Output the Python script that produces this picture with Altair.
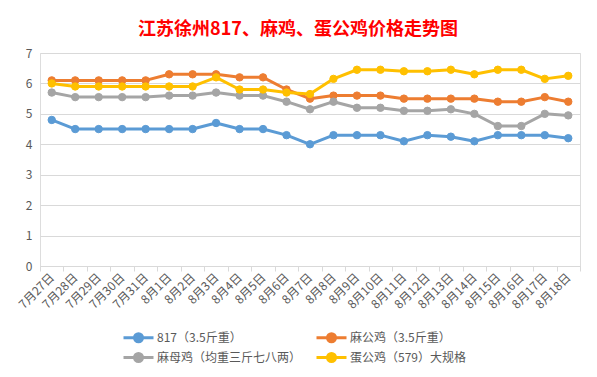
import altair as alt
import pandas as pd

dates = ["7月27日", "7月28日", "7月29日", "7月30日", "7月31日",
         "8月1日", "8月2日", "8月3日", "8月4日", "8月5日", "8月6日",
         "8月7日", "8月8日", "8月9日", "8月10日", "8月11日", "8月12日",
         "8月13日", "8月14日", "8月15日", "8月16日", "8月17日", "8月18日"]

series_names = ["817（3.5斤重）", "麻公鸡（3.5斤重）", "麻母鸡（均重三斤七八两）", "蛋公鸡（579）大规格"]
series_colors = ["#5B9BD5", "#ED7D31", "#A5A5A5", "#FFC000"]

s817 = [4.8, 4.5, 4.5, 4.5, 4.5, 4.5, 4.5, 4.7, 4.5, 4.5, 4.3, 4.0,
        4.3, 4.3, 4.3, 4.1, 4.3, 4.25, 4.1, 4.3, 4.3, 4.3, 4.2]
ma_gong = [6.1, 6.1, 6.1, 6.1, 6.1, 6.3, 6.3, 6.3, 6.2, 6.2, 5.8, 5.5,
           5.6, 5.6, 5.6, 5.5, 5.5, 5.5, 5.5, 5.4, 5.4, 5.55, 5.4]
ma_mu = [5.7, 5.55, 5.55, 5.55, 5.55, 5.6, 5.6, 5.7, 5.6, 5.6, 5.4, 5.15,
         5.4, 5.2, 5.2, 5.1, 5.1, 5.15, 5.0, 4.6, 4.6, 5.0, 4.95]
dan_gong = [6.0, 5.9, 5.9, 5.9, 5.9, 5.9, 5.9, 6.2, 5.8, 5.8, 5.7, 5.65,
            6.15, 6.45, 6.45, 6.4, 6.4, 6.45, 6.3, 6.45, 6.45, 6.15, 6.25]

rows = []
for name, vals in zip(series_names, [s817, ma_gong, ma_mu, dan_gong]):
    for d, v in zip(dates, vals):
        rows.append({"date": d, "series": name, "price": v})
df = pd.DataFrame(rows)

FONT = "Noto Sans CJK SC"
GREY = "#595959"

cscale = alt.Scale(domain=series_names, range=series_colors)
legend = alt.Legend(
    title=None, orient="none", legendX=92, legendY=278, columns=2,
    direction="horizontal",
    symbolType="M-3,0H3M-0.8,0A0.8,0.8,0,1,1,0.8,0A0.8,0.8,0,1,1,-0.8,0Z",
    symbolSize=100, symbolStrokeWidth=3, labelOffset=12,
    labelFontSize=12, labelFont=FONT, labelColor=GREY,
    rowPadding=-1, columnPadding=8, padding=0,
)

x = alt.X("date:N", sort=dates, bandPosition=0.5,
          scale=alt.Scale(type="band", paddingInner=0, paddingOuter=0),
          axis=alt.Axis(title=None, labelAngle=-45, labelAlign="right",
                        labelBaseline="middle", labelPadding=4,
                        labelFontSize=12, labelFont=FONT, labelColor=GREY,
                        tickBand="extent", ticks=True, tickSize=5,
                        tickColor="#D9D9D9", domainColor="#D9D9D9",
                        grid=False, labelOverlap=False))
y = alt.Y("price:Q", scale=alt.Scale(domain=[0, 7], nice=False),
          axis=alt.Axis(title=None, values=[0, 1, 2, 3, 4, 5, 6, 7],
                        domain=False, ticks=False, labelPadding=8,
                        labelFontSize=12, labelFont=FONT, labelColor=GREY,
                        gridColor="#D9D9D9", gridWidth=1))

lines = alt.Chart(df).mark_line(strokeWidth=3, strokeJoin="round").encode(
    x=x, y=y,
    stroke=alt.Stroke("series:N", scale=cscale, legend=legend, sort=series_names),
)
points = alt.Chart(df).mark_point(filled=True, shape="circle", size=55,
                                  strokeWidth=1, opacity=1).encode(
    x=x, y=y,
    fill=alt.Fill("series:N", scale=cscale, legend=legend, sort=series_names),
    stroke=alt.Stroke("series:N", scale=cscale, legend=legend, sort=series_names),
)

chart = alt.layer(lines, points).properties(
    width=540, height=213,
    autosize=alt.AutoSizeParams(type="none"),
    padding={"left": 32, "top": 45, "right": 9, "bottom": 100},
    title=alt.TitleParams(
        "江苏徐州817、麻鸡、蛋公鸡价格走势图", fontSize=18, fontWeight="bold",
        color="#FF0000", font=FONT, anchor="middle", dx=-12, dy=25, offset=15,
        baseline="bottom"),
).configure_view(stroke=None).configure(background="white")

chart.save("out.html", embed_options={"renderer": "svg", "actions": False})
